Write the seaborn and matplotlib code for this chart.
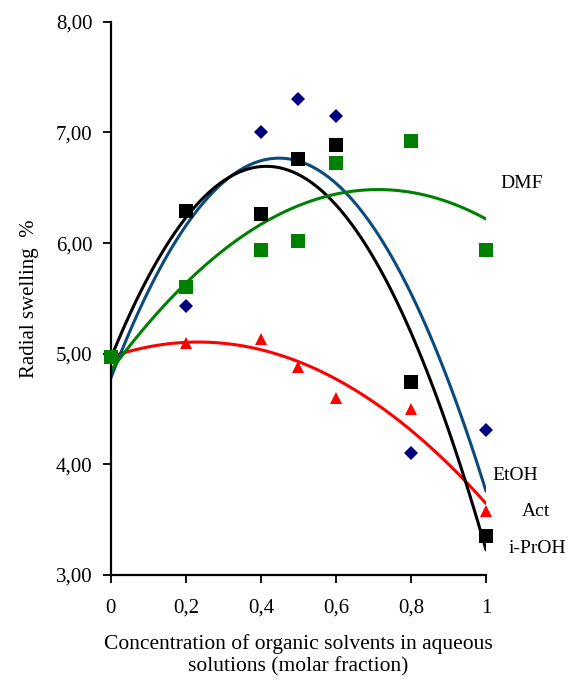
import matplotlib
matplotlib.use('Agg')
import matplotlib.pyplot as plt
import seaborn as sns
import pandas as pd
from matplotlib.ticker import FuncFormatter

# molar fraction of organic solvent
conc = [0, 0.2, 0.4, 0.5, 0.6, 0.8, 1.0]

# radial swelling, %
iproh = [4.97, 6.29, 6.26, 6.76, 6.89, 4.74, 3.35]
etoh  = [4.97, 5.43, 7.00, 7.30, 7.15, 4.10, 4.31]
dmf   = [4.97, 5.60, 5.94, 6.02, 6.72, 6.92, 5.94]
act   = [4.97, 5.10, 5.13, 4.88, 4.60, 4.50, 3.58]

x_ticks = [0, 0.2, 0.4, 0.6, 0.8, 1.0]
y_ticks = [3, 4, 5, 6, 7, 8]

sns.set_style("ticks")
plt.rcParams['font.family'] = ['Liberation Serif', 'DejaVu Serif']
plt.rcParams['text.color'] = 'black'
plt.rcParams['axes.labelcolor'] = 'black'

df = pd.DataFrame({'x': conc, 'i-PrOH': iproh, 'EtOH': etoh, 'DMF': dmf, 'Act': act})

# (line colour, marker colour, marker, size)
styles = {
    'Act':    ('#ff0000', '#ff0000', '^', 8.5),
    'EtOH':   ('#0b4a7d', '#000080', 'D', 7),
    'i-PrOH': ('#000000', '#000000', 's', 10),
    'DMF':    ('#008000', '#008000', 's', 10),
}

fig, ax = plt.subplots(figsize=(5.8, 6.82), dpi=100)
fig.subplots_adjust(left=0.191, right=0.838, top=0.968, bottom=0.157)

# 2nd-order polynomial trend lines
for name, (lc, mc, mk, ms) in styles.items():
    sns.regplot(data=df, x='x', y=name, order=2, ci=None, scatter=False,
                line_kws={'color': lc, 'lw': 2.2, 'zorder': 2}, ax=ax)

for name, (lc, mc, mk, ms) in styles.items():
    ax.plot(df['x'], df[name], linestyle='none', marker=mk, markersize=ms,
            color=mc, markeredgewidth=0, zorder=3, clip_on=False)

ax.set_xlim(0, 1)
ax.set_ylim(3, 8)
ax.set_xticks(x_ticks)
ax.set_yticks(y_ticks)
ax.xaxis.set_major_formatter(FuncFormatter(lambda v, p: ('%g' % v).replace('.', ',')))
ax.yaxis.set_major_formatter(FuncFormatter(lambda v, p: ('%.2f' % v).replace('.', ',')))
ax.tick_params(labelsize=15, width=1.3, length=6, pad=7, colors='black')
ax.tick_params(axis='x', pad=11)
for side in ['left', 'bottom']:
    ax.spines[side].set_linewidth(1.6)
    ax.spines[side].set_color('black')
sns.despine(ax=ax)

ax.set_xlabel('Concentration of organic solvents in aqueous\nsolutions (molar fraction)',
              fontsize=15.5, labelpad=12, linespacing=1.22)
ax.set_ylabel('Radial swelling  %', fontsize=15, labelpad=12)

# series labels at right end of the curves
ax.text(1.037, 6.54, 'DMF', fontsize=14, va='center', clip_on=False)
ax.text(1.016, 3.90, 'EtOH', fontsize=14, va='center', clip_on=False)
ax.text(1.096, 3.57, 'Act', fontsize=14, va='center', clip_on=False)
ax.text(1.059, 3.235, 'i-PrOH', fontsize=14, va='center', clip_on=False)

plt.savefig('out.png', dpi=100)
